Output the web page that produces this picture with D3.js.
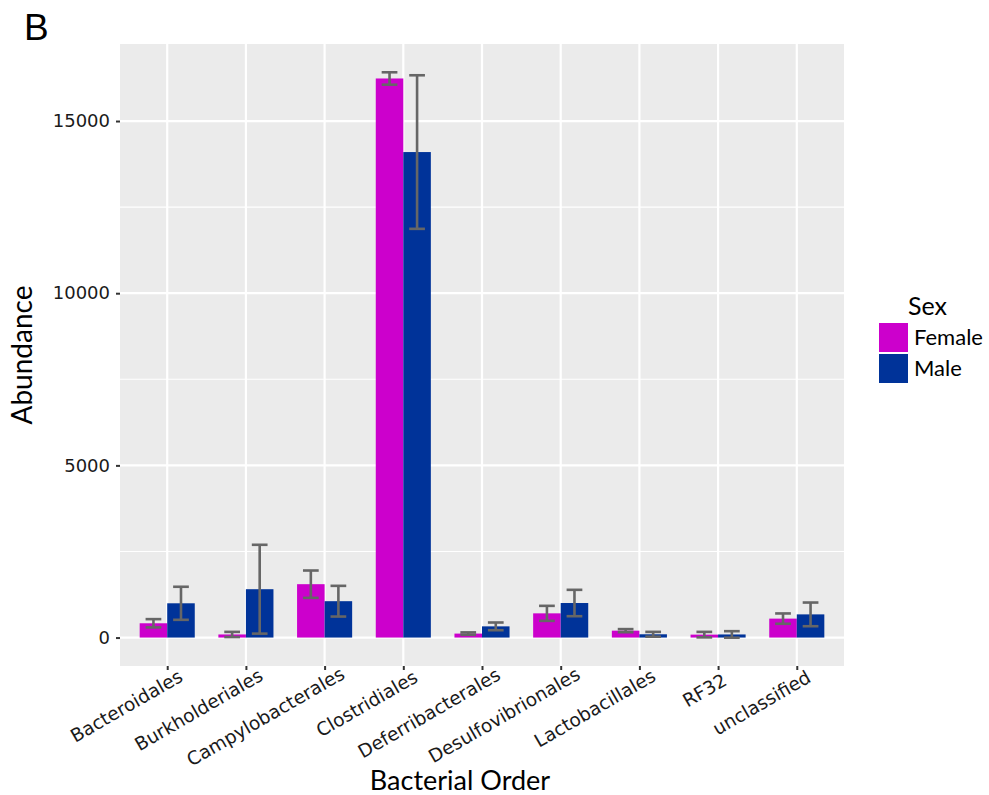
<!DOCTYPE html>
<html>
<head>
<meta charset="utf-8">
<script src="https://cdn.jsdelivr.net/npm/d3@7"></script>
<style>
  html, body { margin: 0; padding: 0; background: #ffffff; }
  svg { display: block; }
</style>
</head>
<body>
<svg id="chart" width="989" height="795"></svg>
<script>
// Bacterial orders on the x axis
const orders = ["Bacteroidales", "Burkholderiales", "Campylobacterales", "Clostridiales",
  "Deferribacterales", "Desulfovibrionales", "Lactobacillales", "RF32", "unclassified"];

// Mean abundance and standard error by sex
const femaleMean = [415, 90, 1550, 16236, 115, 703, 200, 85, 550];
const femaleErr  = [120, 75, 397, 180, 35, 218, 45, 80, 150];
const maleMean   = [995, 1404, 1056, 14099, 325, 1003, 95, 90, 673];
const maleErr    = [480, 1290, 446, 2230, 112, 383, 70, 95, 344];

const sexes = ["Female", "Male"];
const sexColors = ["#CC00CC", "#003399"];
const yTicks = [0, 5000, 10000, 15000];
const yMinor = [2500, 7500, 12500];

const svg = d3.select("#chart");
const panel = { left: 120, right: 844, top: 44, bottom: 666 };

const rows = [];
orders.forEach((o, i) => {
  rows.push({ order: o, sex: "Female", mean: femaleMean[i], err: femaleErr[i] });
  rows.push({ order: o, sex: "Male", mean: maleMean[i], err: maleErr[i] });
});

// y range padded by 5% of the data span, as in ggplot
const lo = Math.min(0, d3.min(rows, d => d.mean - d.err));
const hi = d3.max(rows, d => d.mean + d.err);
const span = hi - lo;
const y = d3.scaleLinear().domain([lo - 0.05 * span, hi + 0.05 * span])
  .range([panel.bottom, panel.top]);

const x = d3.scalePoint().domain(orders).range([panel.left, panel.right]).padding(0.6);
const step = x.step();
const barW = 0.35 * step;
const sexOffset = d3.scaleOrdinal().domain(sexes).range([-barW / 2, barW / 2]);
const color = d3.scaleOrdinal().domain(sexes).range(sexColors);

// panel background
svg.append("rect")
  .attr("x", panel.left).attr("y", panel.top)
  .attr("width", panel.right - panel.left).attr("height", panel.bottom - panel.top)
  .attr("fill", "#EBEBEB");

// grid lines
svg.append("g").selectAll("line").data(yMinor).join("line")
  .attr("x1", panel.left).attr("x2", panel.right)
  .attr("y1", d => y(d)).attr("y2", d => y(d))
  .attr("stroke", "#ffffff").attr("stroke-width", 1.1);
svg.append("g").selectAll("line").data(yTicks).join("line")
  .attr("x1", panel.left).attr("x2", panel.right)
  .attr("y1", d => y(d)).attr("y2", d => y(d))
  .attr("stroke", "#ffffff").attr("stroke-width", 2.2);
svg.append("g").selectAll("line").data(orders).join("line")
  .attr("x1", d => x(d)).attr("x2", d => x(d))
  .attr("y1", panel.top).attr("y2", panel.bottom)
  .attr("stroke", "#ffffff").attr("stroke-width", 2.2);

// bars
svg.append("g").selectAll("rect").data(rows).join("rect")
  .attr("x", d => x(d.order) + sexOffset(d.sex) - barW / 2)
  .attr("width", barW)
  .attr("y", d => Math.min(y(d.mean), y(0)))
  .attr("height", d => Math.abs(y(0) - y(d.mean)))
  .attr("fill", d => color(d.sex));

// error bars
const capW = 0.2 * step;
const eb = svg.append("g").attr("stroke", "#666666").attr("stroke-width", 2.6).attr("fill", "none");
rows.forEach(d => {
  const cx = x(d.order) + sexOffset(d.sex);
  const yT = y(d.mean + d.err), yB = y(d.mean - d.err);
  eb.append("line").attr("x1", cx).attr("x2", cx).attr("y1", yT).attr("y2", yB);
  eb.append("line").attr("x1", cx - capW / 2).attr("x2", cx + capW / 2).attr("y1", yT).attr("y2", yT);
  eb.append("line").attr("x1", cx - capW / 2).attr("x2", cx + capW / 2).attr("y1", yB).attr("y2", yB);
});

// y axis
const yAxis = svg.append("g").attr("transform", `translate(${panel.left},0)`)
  .call(d3.axisLeft(y).tickValues(yTicks).tickSize(4).tickPadding(6).tickFormat(d3.format("d")));
yAxis.select(".domain").remove();
yAxis.selectAll(".tick line").attr("stroke", "#333333").attr("stroke-width", 2);
yAxis.selectAll(".tick text")
  .attr("font-family", "DejaVu Sans").attr("font-size", 18).attr("fill", "#1a1a1a");

// x axis with slanted labels
const xAxis = svg.append("g").attr("transform", `translate(0,${panel.bottom})`)
  .call(d3.axisBottom(x).tickSize(4).tickFormat(d => d));
xAxis.select(".domain").remove();
xAxis.selectAll(".tick line").attr("stroke", "#333333").attr("stroke-width", 2);
xAxis.selectAll(".tick text")
  .attr("font-family", "DejaVu Sans").attr("font-size", 18.5).attr("fill", "#1a1a1a")
  .attr("text-anchor", "end")
  .attr("y", 0).attr("dy", 0)
  .each(function () {
    const L = this.getComputedTextLength();
    const s = 0.1 * L;
    const px = 5.5 + s * Math.cos(Math.PI / 6);
    const py = 20.5 - s * Math.sin(Math.PI / 6);
    d3.select(this).attr("transform", `translate(${px},${py}) rotate(-30)`);
  });

// axis titles
svg.append("text")
  .attr("x", 460).attr("y", 790)
  .attr("text-anchor", "middle")
  .attr("font-family", "Lato").attr("font-size", 27).attr("fill", "#000")
  .text("Bacterial Order");
svg.append("text")
  .attr("transform", "translate(32,355) rotate(-90)")
  .attr("text-anchor", "middle")
  .attr("font-family", "Lato").attr("font-size", 28).attr("fill", "#000")
  .text("Abundance");

// legend
const legend = svg.append("g").attr("transform", "translate(879,323)");
legend.append("text")
  .attr("x", 29).attr("y", -8)
  .attr("font-family", "Lato").attr("font-size", 25).attr("fill", "#000")
  .text("Sex");
const item = legend.selectAll("g.item").data(sexes).join("g")
  .attr("class", "item")
  .attr("transform", (d, i) => `translate(0,${i * 31})`);
item.append("rect").attr("width", 29).attr("height", 29).attr("fill", d => color(d));
item.append("text")
  .attr("x", 35).attr("y", 14.5).attr("dy", "0.35em")
  .attr("font-family", "Lato").attr("font-size", 22).attr("fill", "#000")
  .text(d => d);

// panel tag
svg.append("text")
  .attr("x", 24).attr("y", 40)
  .attr("font-family", "Liberation Sans").attr("font-size", 37).attr("fill", "#000")
  .text("B");
</script>
</body>
</html>
